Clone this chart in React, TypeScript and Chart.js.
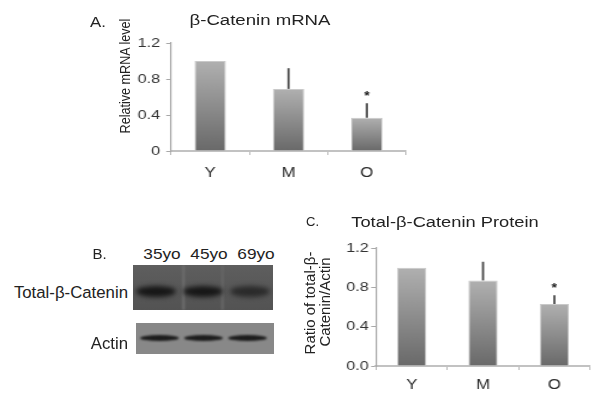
import React, { useEffect, useRef } from 'react';
import { Chart, registerables } from 'chart.js';

Chart.register(...registerables);

// ---------- data ----------
const categories = ['Y', 'M', 'O'];
const mrnaValues = [1.0, 0.69, 0.37];
const mrnaErrors = [0, 0.23, 0.16];
const mrnaSignificant = [false, false, true];
const proteinValues = [1.0, 0.87, 0.63];
const proteinErrors = [0, 0.19, 0.09];
const proteinSignificant = [false, false, true];
const yTicks = [0, 0.4, 0.8, 1.2];
const blotLanes = ['35yo', '45yo', '69yo'];
const blotRows = ['Total-β-Catenin', 'Actin'];
const panelLetters = ['A.', 'B.', 'C.'];
const panelTitles = ['β-Catenin mRNA', 'Total-β-Catenin Protein'];
const mrnaAxisTitle = 'Relative mRNA level';
const proteinAxisTitle = ['Ratio of total-β-', 'Catenin/Actin'];

const FONT = '"Liberation Sans", Arial, Helvetica, sans-serif';
const STRETCH = 1.2;

const errorBarPlugin = {
  id: 'errorBars',
  afterDatasetsDraw(chart: any, _args: any, opts: any) {
    const meta = chart.getDatasetMeta(0);
    const y = chart.scales.y;
    const ctx = chart.ctx;
    const vals = chart.data.datasets[0].data as number[];
    ctx.save();
    meta.data.forEach((bar: any, i: number) => {
      const err = opts.errors[i];
      const v = vals[i];
      const yTop = y.getPixelForValue(v + err);
      if (err > 0) {
        ctx.strokeStyle = '#4a4a4a';
        ctx.lineWidth = 1.8;
        ctx.beginPath();
        ctx.moveTo(bar.x, y.getPixelForValue(v));
        ctx.lineTo(bar.x, yTop);
        ctx.stroke();
      }
      if (opts.significant[i]) {
        ctx.fillStyle = '#222';
        ctx.font = `bold 12px ${FONT}`;
        ctx.textAlign = 'center';
        ctx.textBaseline = 'middle';
        ctx.fillText('*', bar.x, yTop - 7);
      }
    });
    ctx.restore();
  },
};

type PanelProps = {
  left: number;
  top: number;
  width: number;
  height: number;
  values: number[];
  errors: number[];
  significant: boolean[];
  yWidth: number;
  xHeight: number;
  padTop: number;
  padRight: number;
  tickFmt: (v: number) => string;
  xPad: number;
  yPad: number;
  barPct: number;
  tickFont: number;
  xFont: number;
};

function BarPanel(p: PanelProps) {
  const ref = useRef<HTMLCanvasElement | null>(null);
  useEffect(() => {
    if (!ref.current) return;
    const chart = new Chart(ref.current, {
      type: 'bar',
      data: {
        labels: categories,
        datasets: [
          {
            data: p.values,
            backgroundColor: (ctx: any) => {
              const c = ctx.chart;
              if (!c.chartArea || ctx.type !== 'data') return '#8a8a8a';
              const ys = c.scales.y;
              const t = ys.getPixelForValue(ctx.raw);
              const b = ys.getPixelForValue(0);
              const g = c.ctx.createLinearGradient(0, t, 0, b);
              g.addColorStop(0, '#b0b0b0');
              g.addColorStop(1, '#696969');
              return g;
            },
            borderColor: '#c9c9c9',
            borderWidth: 1,
            categoryPercentage: 1,
            barPercentage: p.barPct,
          },
        ],
      },
      options: {
        responsive: false,
        animation: false,
        devicePixelRatio: 1,
        layout: { padding: { top: p.padTop, right: p.padRight, left: 0, bottom: 0 } },
        plugins: {
          legend: { display: false },
          tooltip: { enabled: false },
          title: { display: false },
          errorBars: { errors: p.errors, significant: p.significant },
        } as any,
        scales: {
          x: {
            grid: {
              display: true,
              drawOnChartArea: false,
              drawTicks: true,
              tickLength: 4,
              color: '#b9b9b9',
              offset: true,
            },
            border: { color: '#c2c2c2', width: 2 },
            ticks: {
              color: '#2a2a2a',
              padding: p.xPad,
              font: { family: FONT, size: p.xFont },
            },
            afterFit: (s: any) => {
              s.height = p.xHeight;
            },
          },
          y: {
            min: 0,
            max: 1.2,
            grid: {
              display: true,
              drawOnChartArea: false,
              drawTicks: true,
              tickLength: 4,
              color: '#a8a8a8',
            },
            border: { color: '#a8a8a8', width: 1.2 },
            afterBuildTicks: (s: any) => {
              s.ticks = yTicks.map((v) => ({ value: v }));
            },
            ticks: {
              color: '#333',
              padding: p.yPad,
              font: { family: FONT, size: p.tickFont },
              callback: (v: any) => p.tickFmt(Number(v)),
            },
            afterFit: (s: any) => {
              s.width = p.yWidth;
            },
          },
        },
      },
      plugins: [errorBarPlugin as any],
    });
    return () => chart.destroy();
  }, []);
  return (
    <canvas
      ref={ref}
      width={p.width}
      height={p.height}
      style={{
        position: 'absolute',
        left: p.left,
        top: p.top,
        width: p.width,
        height: p.height,
        transform: `scaleX(${STRETCH})`,
        transformOrigin: '0 0',
      }}
    />
  );
}

function Txt(props: {
  x: number;
  y: number;
  size: number;
  sx?: number;
  rot?: boolean;
  align?: 'center' | 'right';
  children: React.ReactNode;
}) {
  const { x, y, size, sx = 1, rot = false, align = 'center' } = props;
  const tx = align === 'right' ? '-100%' : '-50%';
  return (
    <div
      style={{
        position: 'absolute',
        left: x,
        top: y,
        fontFamily: FONT,
        fontSize: size,
        lineHeight: 1,
        color: '#222',
        whiteSpace: 'nowrap',
        transform: `translate(${tx}, -50%) scaleX(${sx})${rot ? ' rotate(-90deg)' : ''}`,
        transformOrigin: align === 'right' ? '100% 50%' : '50% 50%',
      }}
    >
      {props.children}
    </div>
  );
}

function Band(props: { x: number; y: number; w: number; h: number; color: string; blur: number }) {
  return (
    <div
      style={{
        position: 'absolute',
        left: props.x - props.w / 2,
        top: props.y - props.h / 2,
        width: props.w,
        height: props.h,
        borderRadius: '50%',
        background: props.color,
        filter: `blur(${props.blur}px)`,
      }}
    />
  );
}

function Blot() {
  const laneX = [156, 203, 250];
  const actinX = [159, 203, 247];
  return (
    <>
      <div
        style={{
          position: 'absolute',
          left: 133,
          top: 265,
          width: 140,
          height: 45,
          background: 'linear-gradient(#5e5e5e, #575757 60%, #535353)',
          overflow: 'hidden',
        }}
      >
        <div style={{ position: 'absolute', left: 49, top: 0, width: 3, height: 45, background: '#6a6a6a', filter: 'blur(1px)' }} />
        <div style={{ position: 'absolute', left: 88, top: 0, width: 3, height: 45, background: '#646464', filter: 'blur(1px)' }} />
        {laneX.map((x, i) => (
          <Band key={i} x={x - 133} y={26} w={40} h={11} color={i === 2 ? '#2a2a2a' : '#161616'} blur={2.5} />
        ))}
      </div>
      <div
        style={{
          position: 'absolute',
          left: 136,
          top: 323,
          width: 138,
          height: 31,
          background: '#888',
          overflow: 'hidden',
        }}
      >
        {actinX.map((x, i) => (
          <Band key={i} x={x - 136} y={15} w={39} h={6} color="#1c1c1c" blur={1} />
        ))}
      </div>
    </>
  );
}

export default function App() {
  return (
    <div
      style={{
        position: 'absolute',
        left: 0,
        top: 0,
        width: 601,
        height: 401,
        background: '#fff',
        overflow: 'hidden',
      }}
    >
      {/* Panel A */}
      <BarPanel
        left={80}
        top={0}
        width={280}
        height={190}
        values={mrnaValues}
        errors={mrnaErrors}
        significant={mrnaSignificant}
        yWidth={75.83}
        xHeight={39}
        padTop={43}
        padRight={8.33}
        tickFmt={(v) => (v === 0 ? '0' : v.toFixed(1))}
        xPad={10}
        yPad={5}
        barPct={0.4}
        tickFont={13.5}
        xFont={14}
      />
      <Txt x={98} y={22} size={14} sx={1.2}>{panelLetters[0]}</Txt>
      <Txt x={260} y={20} size={15.5} sx={1.2}>{panelTitles[0]}</Txt>
      <Txt x={126} y={76} size={12.6} sx={1.2} rot>{mrnaAxisTitle}</Txt>

      {/* Panel B */}
      <Txt x={99.5} y={253} size={15}>{panelLetters[1]}</Txt>
      {blotLanes.map((l, i) => (
        <Txt key={l} x={[161.5, 209, 256][i]} y={253} size={15} sx={1.15}>
          {l}
        </Txt>
      ))}
      <Txt x={128} y={293} size={16.8} align="right">{blotRows[0]}</Txt>
      <Txt x={128} y={344} size={16.8} align="right">{blotRows[1]}</Txt>
      <Blot />

      {/* Panel C */}
      <BarPanel
        left={300}
        top={200}
        width={250}
        height={200}
        values={proteinValues}
        errors={proteinErrors}
        significant={proteinSignificant}
        yWidth={63.33}
        xHeight={34}
        padTop={48}
        padRight={8.33}
        tickFmt={(v) => v.toFixed(1)}
        xPad={7}
        yPad={2}
        barPct={0.41}
        tickFont={13.5}
        xFont={14}
      />
      <Txt x={312.5} y={221} size={13}>{panelLetters[2]}</Txt>
      <Txt x={445} y={222} size={15.5} sx={1.18}>{panelTitles[1]}</Txt>
      <Txt x={309} y={303} size={15} rot>{proteinAxisTitle[0]}</Txt>
      <Txt x={324} y={302} size={15} rot>{proteinAxisTitle[1]}</Txt>
    </div>
  );
}
